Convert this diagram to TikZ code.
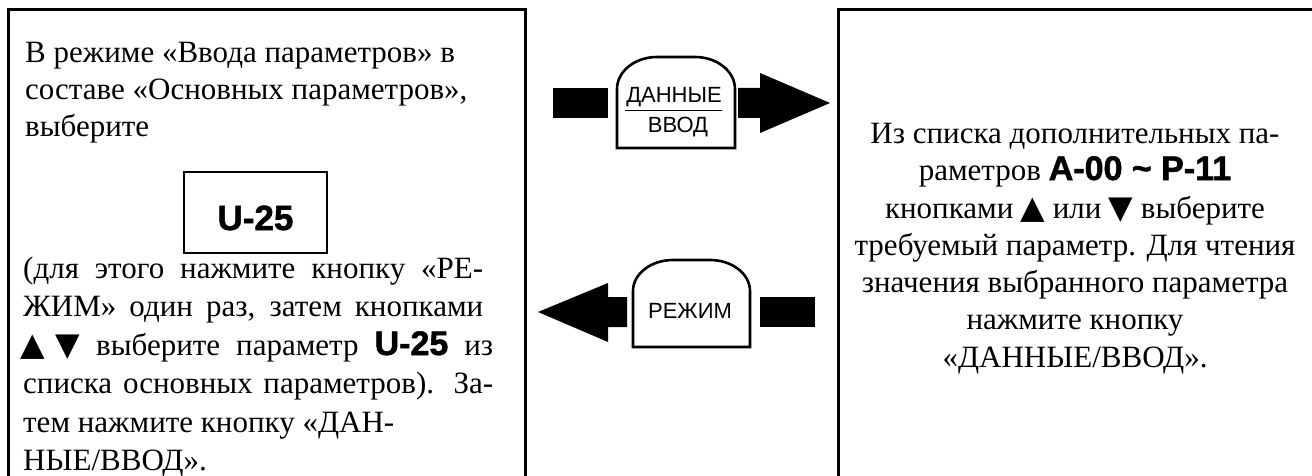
\documentclass[tikz,border=0pt]{standalone}
\usepackage{fontspec}
\setmainfont{Liberation Serif}
\newfontfamily\sansf{Liberation Sans}
\newfontfamily\symf{DejaVu Sans}
\newfontfamily\codefam[BoldFeatures={FakeBold=1.6}]{Liberation Sans}
\newcommand\bodyf{\fontsize{31}{37}\selectfont}
\newcommand\codef[1]{{\codefam\bfseries\fontsize{34}{37}\selectfont #1}}
\newcommand\tri[1]{\makebox[24pt]{\symf\fontsize{32}{35}\selectfont #1}}
\newcommand\jl[2]{\hbox to #1{#2}}
\begin{document}
\begin{tikzpicture}[x=1pt,y=-1pt,
  frame/.style={line width=3pt,line join=miter},
  ltxt/.style={anchor=base west,inner sep=0pt,font=\bodyf},
  ctxt/.style={anchor=base,inner sep=0pt,font=\bodyf},
  btntxt/.style={anchor=base,inner sep=0pt,font=\sansf\fontsize{22}{24}\selectfont},
  btn/.style={line width=2.6pt,fill=white},
  blk/.style={fill=black,draw=none}]
\useasboundingbox (0,0) rectangle (1312,476);
\clip (0,0) rectangle (1312,476);
% frames
\draw[frame] (8,490) -- (8,10) -- (525,10) -- (525,490);
\draw[frame] (838,490) -- (838,10) -- (1320,10);
% left text
\node[ltxt] (l1) at (25,63) {В режиме «Ввода параметров» в};
\node[ltxt] (l2) at (25,100) {составе «Основных параметров»,};
\node[ltxt] (l3) at (25,137) {выберите};
\node[draw,line width=2.6pt,minimum width=143pt,minimum height=81pt,inner sep=0pt] (ubox) at (255.5,212.5) {};
\node[anchor=base,inner sep=0pt] (utxt) at (255.5,230) {\codef{\fontsize{35}{37}\selectfont U-25}};
\node[ltxt] (l4) at (23,278) {\jl{460pt}{(для этого нажмите кнопку «РЕ-}};
\node[ltxt] (l5) at (23,316) {\jl{460pt}{ЖИМ» один раз, затем кнопками}};
\node[ltxt] (l6) at (21,355) {\jl{472pt}{\tri{▲}\hspace{11pt}\tri{▼} выберите параметр \codef{U-25} из}};
\node[ltxt] (l7) at (23,393) {\jl{470pt}{списка основных параметров). За-}};
\node[ltxt] (l8) at (23,432) {тем нажмите кнопку «ДАН-};
\node[ltxt] (l9) at (23,470) {НЫЕ/ВВОД».};
% right text
\node[ctxt] (r1) at (1075,143) {Из списка дополнительных па-};
\node[ctxt] (r2) at (1075,180) {раметров \codef{A-00 \textasciitilde{} P-11}};
\node[ctxt] (r3) at (1075,218) {кнопками \tri{▲} или \tri{▼} выберите};
\node[ctxt] (r4) at (1075,255) {требуемый параметр. Для чтения};
\node[ctxt] (r5) at (1075,292) {значения выбранного параметра};
\node[ctxt] (r6) at (1075,329) {нажмите кнопку};
\node[ctxt] (r7) at (1075,367) {«ДАННЫЕ/ВВОД».};
% upper arrow (ДАННЫЕ/ВВОД)
\fill[blk] (553,88) rectangle (608,118);
\fill[blk] (738,88) -- (760,88) -- (760,73) -- (830,103) -- (760,133) -- (760,118) -- (738,118) -- cycle;
\draw[btn] (617,148) -- (617,89) arc[start angle=180,end angle=270,x radius=40,y radius=32]
  -- (695,57) arc[start angle=270,end angle=360,x radius=40,y radius=32] -- (735,148) -- cycle;
\node[btntxt] (dan) at (674,103) {ДАННЫЕ};
\node[btntxt] (vvod) at (678,133) {ВВОД};
\draw[line width=1.5pt] (625,110.5) -- (722,110.5);
% lower arrow (РЕЖИМ)
\fill[blk] (760,297) rectangle (815,327);
\fill[blk] (627,297) -- (608,297) -- (608,283) -- (538,312) -- (608,342) -- (608,327) -- (627,327) -- cycle;
\draw[btn] (633,347) -- (633,291) arc[start angle=180,end angle=270,x radius=40,y radius=31]
  -- (710,260) arc[start angle=270,end angle=360,x radius=40,y radius=31] -- (750,347) -- cycle;
\node[btntxt] (rez) at (690,318) {РЕЖИМ};
\end{tikzpicture}
\end{document}
